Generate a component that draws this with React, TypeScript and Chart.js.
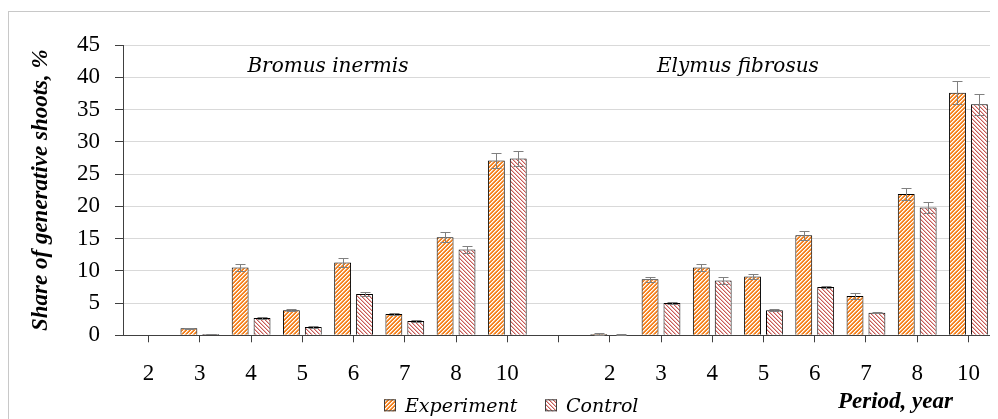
import React, { useEffect, useRef } from 'react';
import { Chart, registerables } from 'chart.js';

Chart.register(...registerables);

// ---- data ----
const periods = ['2', '3', '4', '5', '6', '7', '8', '10'];
const speciesNames = ['Bromus inermis', 'Elymus fibrosus'];
const seriesNames = ['Experiment', 'Control'];

const bromusExperiment = [0, 1.1, 10.5, 3.9, 11.3, 3.3, 15.2, 27.1];
const bromusControl = [0, 0.2, 2.7, 1.3, 6.4, 2.2, 13.3, 27.4];
const elymusExperiment = [0.2, 8.7, 10.5, 9.1, 15.5, 6.1, 21.9, 37.6];
const elymusControl = [0.1, 5.0, 8.5, 3.9, 7.5, 3.5, 19.8, 35.8];

const bromusExperimentErr = [0, 0.1, 0.6, 0.2, 0.7, 0.15, 0.8, 1.2];
const bromusControlErr = [0, 0.05, 0.15, 0.1, 0.25, 0.15, 0.6, 1.1];
const elymusExperimentErr = [0.1, 0.4, 0.6, 0.4, 0.7, 0.4, 1.0, 1.8];
const elymusControlErr = [0.05, 0.15, 0.5, 0.15, 0.2, 0.1, 0.9, 1.6];

const yMin = 0;
const yMax = 45;
const yStep = 5;
const yTitle = 'Share of generative shoots, %';
const xTitle = 'Period, year';

// categories: two species groups separated by one empty slot
const labels = [...periods, '', ...periods];
const join = (a: number[], b: number[]) => [...a, null, ...b];

const SERIF = '"Liberation Serif", "Times New Roman", serif';

function makePattern(ctx: CanvasRenderingContext2D, kind: 'exp' | 'ctl') {
  const c = document.createElement('canvas');
  c.width = 8;
  c.height = 8;
  const g = c.getContext('2d')!;
  const img = g.createImageData(8, 8);
  for (let y = 0; y < 8; y++) {
    for (let x = 0; x < 8; x++) {
      const i = (y * 8 + x) * 4;
      let r = 255, gg = 255, b = 255;
      if (kind === 'exp') {
        const m = (x + y) % 4;
        if (m === 0) { r = 255; gg = 255; b = 255; }
        else if (m === 1) { r = 251; gg = 204; b = 160; }
        else { r = 244; gg = 130; b = 32; }
      } else {
        const m = (x - y + 16) % 4;
        if (m === 0) { r = 200; gg = 90; b = 86; }
        else if (m === 1) { r = 234; gg = 184; b = 182; }
      }
      img.data[i] = r; img.data[i + 1] = gg; img.data[i + 2] = b; img.data[i + 3] = 255;
    }
  }
  g.putImageData(img, 0, 0);
  return ctx.createPattern(c, 'repeat')!;
}

const errorBarPlugin = {
  id: 'errorBars',
  afterDatasetsDraw(chart: any) {
    const ctx = chart.ctx;
    const ys = chart.scales.y;
    chart.data.datasets.forEach((ds: any, di: number) => {
      const meta = chart.getDatasetMeta(di);
      meta.data.forEach((bar: any, i: number) => {
        const v = ds.data[i];
        const e = ds.errors[i];
        if (v == null || !e) return;
        const xs = Math.round(bar.x) + 0.5;
        const yt = Math.round(ys.getPixelForValue(v + e)) + 0.5;
        const yb = Math.round(ys.getPixelForValue(Math.max(0, v - e))) + 0.5;
        ctx.save();
        ctx.strokeStyle = '#808080';
        ctx.lineWidth = 1;
        ctx.beginPath();
        ctx.moveTo(xs, yt); ctx.lineTo(xs, yb);
        ctx.moveTo(xs - 5, yt); ctx.lineTo(xs + 5, yt);
        ctx.moveTo(xs - 5, yb); ctx.lineTo(xs + 5, yb);
        ctx.stroke();
        ctx.restore();
      });
    });
  },
};

const annotationsPlugin = {
  id: 'annotations',
  afterDraw(chart: any) {
    const ctx = chart.ctx;
    const xs = chart.scales.x;
    const ys = chart.scales.y;
    const area = chart.chartArea;
    ctx.save();
    // species names inside plot
    ctx.fillStyle = '#000';
    ctx.font = 'italic 20px "DejaVu Serif"';
    ctx.textAlign = 'center';
    ctx.textBaseline = 'alphabetic';
    const ly = ys.getPixelForValue(40.8);
    ctx.fillText(speciesNames[0], xs.getPixelForValue(3.5), ly);
    ctx.fillText(speciesNames[1], xs.getPixelForValue(11.5), ly);

    // legend
    const legY = area.bottom + 64;
    const items = [
      { x: area.left + 261, name: seriesNames[0], ds: 0 },
      { x: area.left + 422, name: seriesNames[1], ds: 1 },
    ];
    ctx.textAlign = 'left';
    ctx.font = 'italic 19px "DejaVu Serif"';
    items.forEach((it) => {
      const bg = chart.data.datasets[it.ds].backgroundColor;
      ctx.fillStyle = bg;
      ctx.fillRect(it.x, legY, 12, 12);
      ctx.strokeStyle = '#404040';
      ctx.lineWidth = 1;
      ctx.strokeRect(it.x + 0.5, legY + 0.5, 11, 11);
      ctx.fillStyle = '#000';
      ctx.fillText(it.name, it.x + 21, legY + 13);
    });

    // x axis title
    ctx.font = 'bold italic 23px ' + SERIF;
    ctx.fillText(xTitle, area.left + 715, area.bottom + 73);
    ctx.restore();
  },
};

export default function App() {
  const ref = useRef<HTMLCanvasElement>(null);

  useEffect(() => {
    document.documentElement.style.overflow = 'hidden';
    document.body.style.overflow = 'hidden';
    const canvas = ref.current!;
    const ctx = canvas.getContext('2d')!;
    const expPattern = makePattern(ctx, 'exp');
    const ctlPattern = makePattern(ctx, 'ctl');

    const chart = new Chart(canvas, {
      type: 'bar',
      data: {
        labels,
        datasets: [
          {
            label: seriesNames[0],
            data: join(bromusExperiment, elymusExperiment),
            errors: join(bromusExperimentErr, elymusExperimentErr),
            backgroundColor: expPattern,
            borderColor: '#000',
            borderWidth: 1,
            categoryPercentage: 0.855,
            barPercentage: 0.77,
          } as any,
          {
            label: seriesNames[1],
            data: join(bromusControl, elymusControl),
            errors: join(bromusControlErr, elymusControlErr),
            backgroundColor: ctlPattern,
            borderColor: '#000',
            borderWidth: 1,
            categoryPercentage: 0.855,
            barPercentage: 0.77,
          } as any,
        ],
      },
      options: {
        animation: false,
        responsive: true,
        maintainAspectRatio: false,
        layout: { padding: { top: 33, right: 2, bottom: 39, left: 0 } },
        plugins: {
          legend: { display: false },
          tooltip: { enabled: false },
        },
        scales: {
          x: {
            afterFit: (s: any) => { s.height = 45.7; },
            grid: {
              offset: false,
              drawOnChartArea: false,
              drawTicks: true,
              tickLength: 7,
              tickColor: '#404040',
            },
            border: { color: '#404040', width: 1 },
            ticks: {
              autoSkip: false,
              maxRotation: 0,
              padding: 18,
              color: '#000',
              font: { family: SERIF, size: 23 },
            },
          },
          y: {
            min: yMin,
            max: yMax,
            afterFit: (s: any) => { s.width = 114; },
            ticks: {
              stepSize: yStep,
              padding: 15,
              color: '#000',
              font: { family: SERIF, size: 23 },
            },
            grid: {
              color: '#d9d9d9',
              lineWidth: 1,
              drawTicks: true,
              tickLength: 8,
              tickColor: '#404040',
            },
            border: { color: '#404040', width: 1 },
            title: {
              display: true,
              text: yTitle,
              color: '#000',
              padding: { top: 18, bottom: 0 },
              font: { family: SERIF, size: 23, style: 'italic', weight: 'bold' },
            },
          },
        },
      },
      plugins: [errorBarPlugin, annotationsPlugin],
    } as any);
    return () => chart.destroy();
  }, []);

  return (
    <div
      style={{
        marginTop: 3,
        width: 989,
        height: 408,
        borderTop: '1px solid #c8c8c8',
        borderLeft: '1px solid #c8c8c8',
        position: 'relative',
      }}
    >
      <canvas ref={ref} />
    </div>
  );
}
